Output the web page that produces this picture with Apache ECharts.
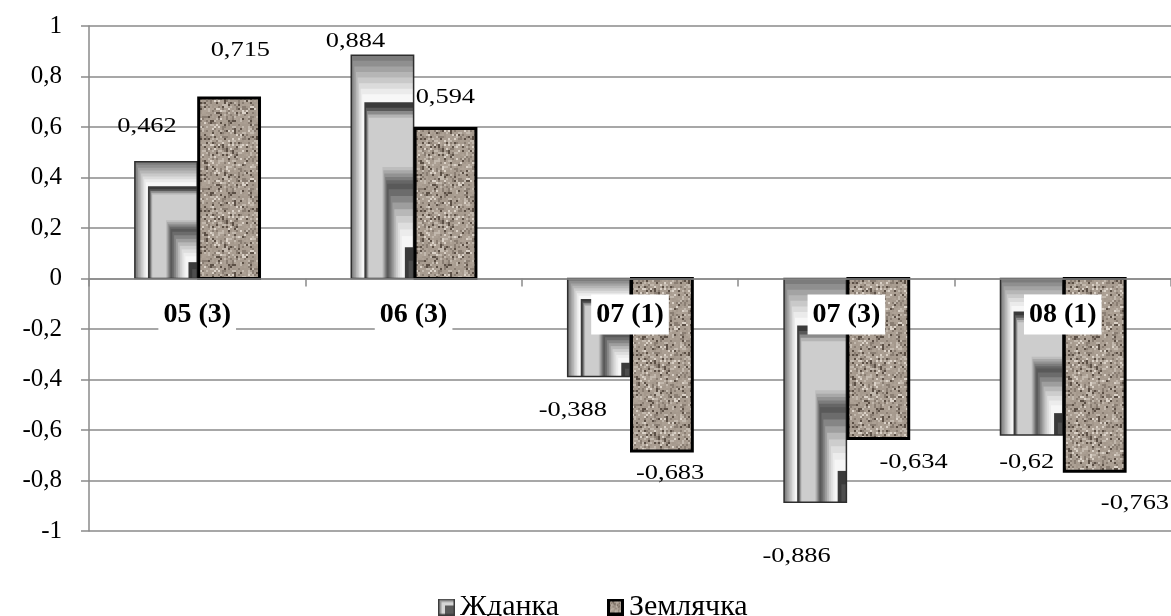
<!DOCTYPE html>
<html>
<head>
<meta charset="utf-8">
<script src="https://cdn.jsdelivr.net/npm/echarts@6/dist/echarts.min.js"></script>
<style>
  html, body { margin: 0; padding: 0; background: #fff; }
  #chart { width: 1171px; height: 616px; }
</style>
</head>
<body>
<div id="chart"></div>
<script>
// Sample groups and the two series
const categories = ['05 (3)', '06 (3)', '07 (1)', '07 (3)', '08 (1)'];
const seriesNames = ['Жданка', 'Землячка'];
const zhdanka = [0.462, 0.884, -0.388, -0.886, -0.62];
const zemlyachka = [0.715, 0.594, -0.683, -0.634, -0.763];

// Value-axis range
const yMin = -1, yMax = 1, yStep = 0.2;

// Value-label placement: [dx, dy] from the centre of each bar's end
const labelNudge = [
  [[-19, -36], [-27, -14.5], [-26, 33.5], [-18.6, 54], [-5, 27]],
  [[12, -48], [0.6, -31.5], [9, 22], [36, 23.4], [41, 32]]
];

const FONT = '"Liberation Serif", "Times New Roman", serif';
const GRID_COLOR = '#8a8a8a';
const BAR_SHARE = 0.288;
const PLOT = { left: 89, right: -5, top: 26, bottom: 85 };

// Silver "from corner" fill: nested rectangles shrinking toward the lower-right corner
const silverRings = [
  [1.00, '#7c7c7c'], [0.975, '#8f8f8f'], [0.95, '#a3a3a3'], [0.925, '#b6b6b6'],
  [0.90, '#c9c9c9'], [0.875, '#dbdbdb'], [0.85, '#ebebeb'], [0.825, '#f7f7f7'],
  [0.79, '#3a3a3a'], [0.765, '#585858'], [0.75, '#8a8a8a'], [0.735, '#b4b4b4'],
  [0.72, '#cdcdcd'], [0.50, '#bdbdbd'], [0.485, '#a8a8a8'], [0.47, '#929292'],
  [0.455, '#7c7c7c'], [0.44, '#666666'], [0.425, '#595959'], [0.40, '#6c6c6c'],
  [0.37, '#858585'], [0.34, '#9e9e9e'], [0.31, '#b8b8b8'], [0.28, '#cdcdcd'],
  [0.25, '#dedede'], [0.22, '#ececec'], [0.19, '#f6f6f6'], [0.14, '#3a3a3a'],
  [0.08, '#4e4e4e']
];

// Granite texture tile (deterministic mottling, softened)
function makeGranite(size) {
  const raw = document.createElement('canvas');
  raw.width = raw.height = size;
  const ctx = raw.getContext('2d');
  const hash = (x, y, s) => {
    const v = Math.sin(x * 12.9898 + y * 78.233 + s * 37.719) * 43758.5453;
    return v - Math.floor(v);
  };
  ctx.fillStyle = '#a99c8f';
  ctx.fillRect(0, 0, size, size);
  for (let y = 0; y < size; y += 2) {
    for (let x = 0; x < size; x += 2) {
      const r = hash(x, y, 1);
      let col;
      if (r < 0.08) col = [92, 80, 70];
      else if (r < 0.24) col = [138, 126, 115];
      else if (r > 0.93) col = [218, 209, 199];
      else if (r > 0.80) col = [194, 184, 173];
      else {
        const j = (hash(x, y, 2) - 0.5) * 12;
        col = [169 + j, 157 + j, 145 + j];
      }
      ctx.fillStyle = 'rgb(' + col.map(Math.round).join(',') + ')';
      const sx = hash(x, y, 3) > 0.6 ? 3 : 2;
      const sy = hash(x, y, 4) > 0.6 ? 3 : 2;
      ctx.fillRect(x, y, Math.min(sx, size - x), Math.min(sy, size - y));
    }
  }
  // lay the tile out 3x3, blur the whole sheet once, keep the centre so edges wrap cleanly
  const sheet = document.createElement('canvas');
  sheet.width = sheet.height = size * 3;
  const sctx = sheet.getContext('2d');
  for (let i = 0; i < 3; i++) for (let j = 0; j < 3; j++) sctx.drawImage(raw, i * size, j * size);
  const soft = document.createElement('canvas');
  soft.width = soft.height = size * 3;
  const fctx = soft.getContext('2d');
  fctx.filter = 'blur(0.7px)';
  fctx.drawImage(sheet, 0, 0);
  const out = document.createElement('canvas');
  out.width = out.height = size;
  out.getContext('2d').drawImage(soft, size, size, size, size, 0, 0, size, size);
  return out;
}
const graniteTile = makeGranite(72);
const granitePattern = { image: graniteTile, repeat: 'repeat' };

// Legend swatches
function silverIcon() {
  const c = document.createElement('canvas');
  c.width = c.height = 34;
  const ctx = c.getContext('2d');
  ctx.fillStyle = '#3c3c3c'; ctx.fillRect(0, 0, 34, 34);
  ctx.fillStyle = '#9a9a9a'; ctx.fillRect(3, 3, 28, 28);
  ctx.fillStyle = '#d6d6d6'; ctx.fillRect(7, 7, 24, 24);
  ctx.fillStyle = '#5a5a5a'; ctx.fillRect(14, 14, 17, 17);
  return c.toDataURL();
}
function graniteIcon() {
  const c = document.createElement('canvas');
  c.width = c.height = 34;
  const ctx = c.getContext('2d');
  ctx.fillStyle = '#000'; ctx.fillRect(0, 0, 34, 34);
  ctx.drawImage(graniteTile, 0, 0, 24, 24, 6, 6, 22, 22);
  return c.toDataURL();
}

function fmt(v) { return String(v).replace('.', ','); }

function renderBar(params, api) {
  const si = params.seriesIndex;
  const cat = api.value(0);
  const v = api.value(1);
  const base = api.coord([cat, 0]);
  const end = api.coord([cat, v]);
  const band = api.size([1, 0])[0];
  const w = band * BAR_SHARE;
  const x0 = si === 0 ? base[0] - w : base[0];
  const top = Math.min(base[1], end[1]);
  const h = Math.abs(end[1] - base[1]);
  const children = [];
  if (si === 0) {
    silverRings.forEach(([t, c]) => {
      children.push({
        type: 'rect',
        shape: { x: x0 + w * (1 - t), y: top + h * (1 - t), width: w * t, height: h * t },
        style: { fill: c }
      });
    });
    children.push({
      type: 'rect',
      shape: { x: x0, y: top, width: w, height: h },
      style: { fill: 'none', stroke: '#2e2e2e', lineWidth: 1.5 }
    });
  } else {
    children.push({
      type: 'rect',
      shape: { x: x0 + 1.5, y: top, width: w - 1.5, height: h },
      style: { fill: granitePattern, stroke: '#000', lineWidth: 3 }
    });
  }
  const n = labelNudge[si][params.dataIndex];
  children.push({
    type: 'text',
    x: x0 + w / 2 + n[0],
    y: end[1] + n[1],
    scaleX: 1.2,
    z2: 10,
    style: {
      text: fmt(v),
      fill: '#000',
      font: '22px ' + FONT,
      align: 'center',
      verticalAlign: 'middle'
    }
  });
  return { type: 'group', children };
}

const chart = echarts.init(document.getElementById('chart'), null, { renderer: 'canvas' });
chart.setOption({
  backgroundColor: '#fff',
  animation: false,
  grid: [
    // main plot
    Object.assign({ containLabel: false }, PLOT),
    // upper half only: its bottom edge is the zero line, where the group names sit
    { left: PLOT.left, right: PLOT.right, top: PLOT.top, height: (616 - PLOT.top - PLOT.bottom) / 2, containLabel: false }
  ],
  legend: {
    left: 433,
    top: 587,
    itemWidth: 17,
    itemHeight: 17,
    itemGap: 48,
    textStyle: { fontFamily: FONT, fontSize: 30, color: '#000' },
    data: [
      { name: seriesNames[0], icon: 'image://' + silverIcon() },
      { name: seriesNames[1], icon: 'image://' + graniteIcon() }
    ]
  },
  xAxis: [
    {
      type: 'category',
      data: categories,
      gridIndex: 0,
      z: 5,
      axisLine: { onZero: true, lineStyle: { color: GRID_COLOR, width: 1.5 } },
      axisTick: { show: true, length: 8, alignWithLabel: false, lineStyle: { color: GRID_COLOR, width: 1.5 } },
      axisLabel: { show: false },
      splitLine: { show: false }
    },
    {
      type: 'category',
      data: categories,
      gridIndex: 1,
      position: 'bottom',
      z: 10,
      axisLine: { show: false },
      axisTick: { show: false },
      splitLine: { show: false },
      axisLabel: {
        fontFamily: FONT,
        fontWeight: 'bold',
        fontSize: 28,
        color: '#000',
        margin: 16,
        backgroundColor: '#fff',
        padding: [6, 5, 6, 5]
      }
    }
  ],
  yAxis: [
    {
      type: 'value',
      gridIndex: 0,
      min: yMin,
      max: yMax,
      interval: yStep,
      axisLine: { show: true, lineStyle: { color: GRID_COLOR, width: 1.5 } },
      axisTick: { show: true, length: 8, lineStyle: { color: GRID_COLOR, width: 1.5 } },
      splitLine: { show: true, lineStyle: { color: GRID_COLOR, width: 1.5 } },
      axisLabel: {
        fontFamily: FONT,
        fontSize: 25,
        color: '#000',
        margin: 27,
        formatter: v => fmt(+v.toFixed(1))
      }
    },
    { type: 'value', gridIndex: 1, min: 0, max: yMax, show: false }
  ],
  series: [
    {
      name: seriesNames[0],
      type: 'custom',
      clip: false,
      xAxisIndex: 0,
      yAxisIndex: 0,
      itemStyle: { color: '#9a9a9a' },
      renderItem: renderBar,
      data: zhdanka.map((v, i) => [i, v])
    },
    {
      name: seriesNames[1],
      type: 'custom',
      clip: false,
      xAxisIndex: 0,
      yAxisIndex: 0,
      itemStyle: { color: '#a89a8c' },
      renderItem: renderBar,
      data: zemlyachka.map((v, i) => [i, v])
    }
  ]
});
</script>
</body>
</html>
